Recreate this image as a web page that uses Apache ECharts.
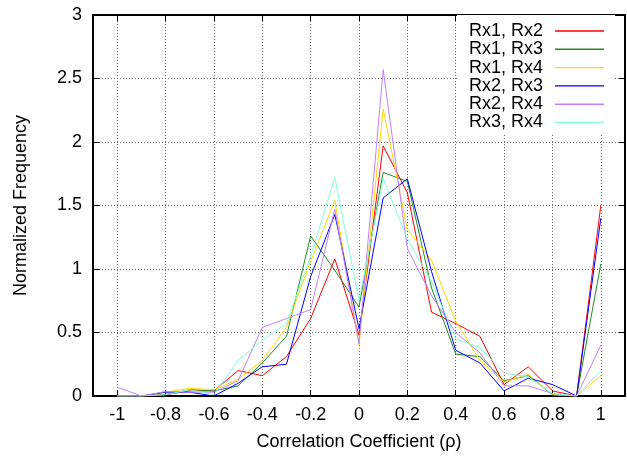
<!DOCTYPE html>
<html>
<head>
<meta charset="utf-8">
<script src="https://cdn.jsdelivr.net/npm/echarts@6/dist/echarts.min.js"></script>
<style>
  html, body { margin: 0; padding: 0; background: #fff; }
  #chart { width: 627px; height: 456px; }
</style>
</head>
<body>
<div id="chart"></div>
<script>
// Correlation coefficient bins
const rho = [-1, -0.9, -0.8, -0.7, -0.6, -0.5, -0.4, -0.3, -0.2, -0.1, 0,
             0.1, 0.2, 0.3, 0.4, 0.5, 0.6, 0.7, 0.8, 0.9, 1];

// Normalized frequency per receiver pair
const rx1rx2 = [0, 0, 0.01, 0.04, 0.04, 0.20, 0.16, 0.31, 0.61, 1.08, 0.48,
                1.97, 1.60, 0.66, 0.57, 0.47, 0.09, 0.23, 0.04, 0, 1.50];
const rx1rx3 = [0, 0, 0.01, 0.05, 0.04, 0.08, 0.26, 0.47, 1.26, 0.99, 0.70,
                1.76, 1.69, 0.85, 0.33, 0.31, 0.12, 0.16, 0.01, 0, 1.04];
const rx1rx4 = [0, 0, 0.03, 0.06, 0.05, 0.13, 0.28, 0.54, 1.06, 1.54, 0.40,
                2.26, 1.31, 1.07, 0.59, 0.28, 0.11, 0.17, 0.01, 0, 0.16];
const rx2rx3 = [0, 0, 0.03, 0.03, 0.00, 0.10, 0.23, 0.25, 0.94, 1.43, 0.53,
                1.56, 1.71, 0.98, 0.36, 0.26, 0.04, 0.14, 0.09, 0, 1.40];
const rx2rx4 = [0.07, 0, 0.035, 0.03, 0.03, 0.12, 0.54, 0.61, 0.68, 1.47, 0.41,
                2.57, 1.16, 0.79, 0.50, 0.34, 0.08, 0.08, 0.02, 0, 0.40];
const rx3rx4 = [0, 0, 0.01, 0.05, 0.01, 0.28, 0.44, 0.57, 1.10, 1.72, 0.75,
                1.71, 1.24, 0.90, 0.45, 0.38, 0.18, 0.15, 0.02, 0, 0.20];

const seriesNames = ['Rx1, Rx2', 'Rx1, Rx3', 'Rx1, Rx4', 'Rx2, Rx3', 'Rx2, Rx4', 'Rx3, Rx4'];
const seriesValues = [rx1rx2, rx1rx3, rx1rx4, rx2rx3, rx2rx4, rx3rx4];
const seriesColors = ['#ff0000', '#228b22', '#ffd700', '#0000ff', '#c080ff', '#80ffd8'];

const FONT = '"Liberation Sans", Arial, Helvetica, sans-serif';
const gridLine = { show: true, lineStyle: { color: '#666', type: [1, 2], width: 1 } };
const frame = { show: true, onZero: false, lineStyle: { color: '#000', width: 2 } };
const tickIn = { show: true, inside: true, length: 6, lineStyle: { color: '#000', width: 1 } };

const chart = echarts.init(document.getElementById('chart'), null, { renderer: 'canvas' });

chart.setOption({
  animation: false,
  backgroundColor: '#fff',
  grid: { left: 93, right: 2, top: 15, bottom: 58, containLabel: false },
  legend: {
    data: seriesNames.map(n => ({ name: n, icon: 'rect' })),
    orient: 'vertical',
    right: 12,
    top: 15,
    align: 'right',
    backgroundColor: '#fff',
    padding: [7, 11, 2, 12],
    itemWidth: 49,
    itemHeight: 1.4,
    itemGap: 0.3,
    textStyle: { fontFamily: FONT, fontSize: 18, color: '#000', lineHeight: 18, padding: [0, 7, 0, 0] },
    z: 10
  },
  xAxis: [
    {
      type: 'value', min: -1.1, max: 1.1, splitNumber: 11, position: 'bottom',
      name: 'Correlation Coefficient (ρ)', nameLocation: 'middle', nameGap: 37,
      nameTextStyle: { fontFamily: FONT, fontSize: 18, color: '#000' },
      axisLine: frame, axisTick: tickIn, splitLine: gridLine,
      axisLabel: { fontFamily: FONT, fontSize: 18, color: '#000', margin: 10, showMinLabel: false, showMaxLabel: false }
    },
    {
      type: 'value', min: -1.1, max: 1.1, splitNumber: 11, position: 'top',
      axisLine: frame, axisTick: tickIn, splitLine: { show: false }, axisLabel: { show: false }
    }
  ],
  yAxis: [
    {
      type: 'value', min: 0, max: 3, interval: 0.5, position: 'left',
      name: 'Normalized Frequency', nameLocation: 'middle', nameGap: 63,
      nameTextStyle: { fontFamily: FONT, fontSize: 18, color: '#000' },
      axisLine: frame, axisTick: tickIn, splitLine: gridLine,
      axisLabel: { fontFamily: FONT, fontSize: 18, color: '#000', margin: 11 }
    },
    {
      type: 'value', min: 0, max: 3, interval: 0.5, position: 'right',
      axisLine: frame, axisTick: tickIn, splitLine: { show: false }, axisLabel: { show: false }
    }
  ],
  series: seriesNames.map((name, i) => ({
    name: name,
    type: 'line',
    xAxisIndex: 0,
    yAxisIndex: 0,
    symbol: 'none',
    color: seriesColors[i],
    lineStyle: { color: seriesColors[i], width: 1 },
    data: rho.map((x, k) => [x, seriesValues[i][k]])
  }))
});
</script>
</body>
</html>
